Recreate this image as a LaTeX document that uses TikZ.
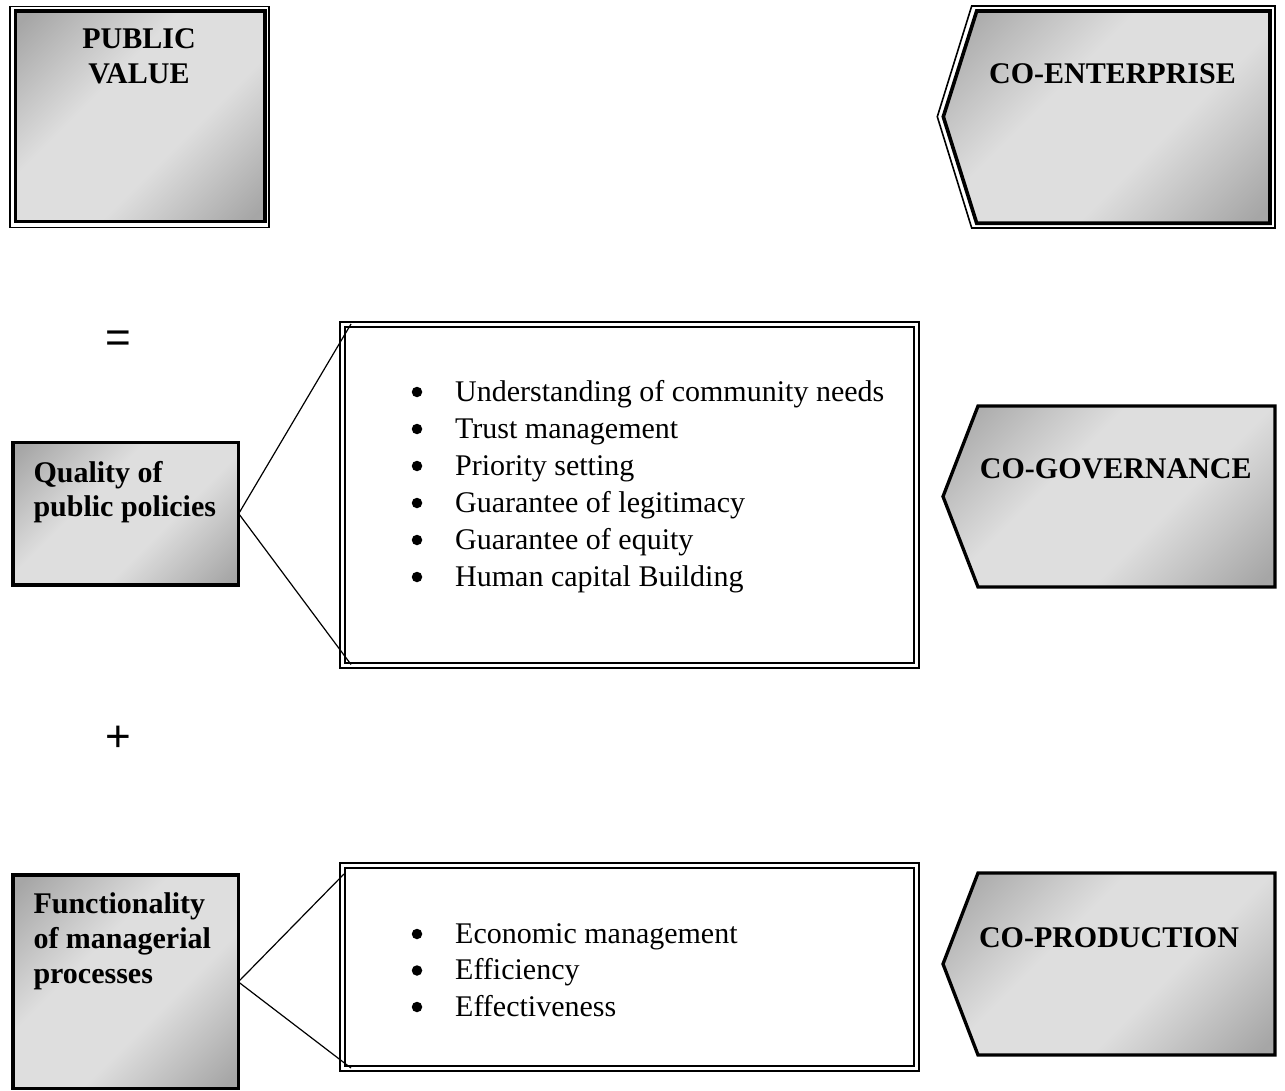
\documentclass[tikz,border=0pt]{standalone}
\usepackage{fontspec}
\setmainfont{Liberation Serif}
\newfontfamily\arialfont{Liberation Sans}
\usetikzlibrary{calc}
\definecolor{shdark}{RGB}{166,166,166}
\definecolor{shlight}{RGB}{222,222,222}
\pgfdeclarehorizontalshading{diagband}{100bp}{color(0bp)=(shdark); color(17bp)=(shdark); color(40bp)=(shlight); color(60bp)=(shlight); color(83bp)=(shdark); color(100bp)=(shdark)}
\begin{document}
\begin{tikzpicture}[x=1pt,y=-1pt,
  grad/.style={shade,shading=diagband,shading angle=-45},
  thinframe/.style={draw=black,line width=1.6pt,inner sep=0pt,outer sep=0pt},
  thickframe/.style={draw=black,line width=3.6pt,inner sep=0pt,outer sep=0pt,grad},
  solidbox/.style={draw=black,line width=3.3pt,inner sep=0pt,outer sep=0pt,grad},
  listouter/.style={draw=black,line width=2pt,inner sep=0pt,outer sep=0pt},
  listinner/.style={draw=black,line width=1.8pt,inner sep=0pt,outer sep=0pt},
  boldtxt/.style={font=\fontsize{30}{34.5}\selectfont\bfseries,inner sep=0pt},
  itemtxt/.style={font=\fontsize{30}{34.5}\selectfont,inner sep=0pt,anchor=base west},
  bulletdot/.style={circle,fill=black,inner sep=0pt,minimum size=10.5pt},
  symtxt/.style={font=\fontsize{44}{50}\arialfont,inner sep=0pt,anchor=base},
  conn/.style={draw=black,line width=1.2pt},
  pentthin/.style={draw=black,line width=1.6pt},
  pentfill/.style={shading=diagband,shading angle=-45}
]
\useasboundingbox (0,0) rectangle (1285,1091);

% PUBLIC VALUE box
\node[thinframe,minimum width=258.7pt,minimum height=221pt] (pvo) at (139.35,117.2) {};
\node[thickframe,minimum width=249.7pt,minimum height=210.7pt] (pvi) at (140.15,116.35) {};
\node[boldtxt,anchor=base] (pv1) at (139,48.3) {PUBLIC};
\node[boldtxt,anchor=base] (pv2) at (139,83.3) {VALUE};

% CO-ENTERPRISE
\draw[pentthin] (971.7,6) -- (1275,6) -- (1275,228) -- (971.7,228) -- (937.3,116.7) -- cycle;
\shade[pentfill] (976.7,11) -- (1270,11) -- (1270,223.3) -- (976.7,223.3) -- (943.3,116.7) -- cycle;
\draw[line width=3.6pt] (976.7,11) -- (1270,11) -- (1270,223.3) -- (976.7,223.3) -- (943.3,116.7) -- cycle;
\node[boldtxt,anchor=base] (coe) at (1112.5,83.3) {CO-ENTERPRISE};

% = sign
\node[symtxt] (eq) at (118,352.4) {=};

% Quality box
\node[solidbox,minimum width=225.7pt,minimum height=142.7pt] (qual) at (125.85,513.65) {};
\node[boldtxt,anchor=base west] (q1) at (33.3,482) {Quality of};
\node[boldtxt,anchor=base west] (q2) at (33.3,516.5) {public policies};

% middle list box
\node[listouter,minimum width=579pt,minimum height=345.5pt] (mlo) at (629.5,494.75) {};
\node[listinner,minimum width=569pt,minimum height=336.3pt] (mli) at (629.5,494.85) {};
\coordinate (mt) at (351,324);
\coordinate (mb) at (351,664.5);
\draw[conn] (qual.east) -- (mt);
\draw[conn] (qual.east) -- (mb);
\node[bulletdot] (mb1) at (417,392) {};
\node[bulletdot] (mb2) at (417,429) {};
\node[bulletdot] (mb3) at (417,466) {};
\node[bulletdot] (mb4) at (417,503) {};
\node[bulletdot] (mb5) at (417,540) {};
\node[bulletdot] (mb6) at (417,577) {};
\node[itemtxt] (mi1) at (455,401) {Understanding of community needs};
\node[itemtxt] (mi2) at (455,438) {Trust management};
\node[itemtxt] (mi3) at (455,475) {Priority setting};
\node[itemtxt] (mi4) at (455,512) {Guarantee of legitimacy};
\node[itemtxt] (mi5) at (455,549) {Guarantee of equity};
\node[itemtxt] (mi6) at (455,586) {Human capital Building};

% CO-GOVERNANCE
\shade[pentfill] (978,406) -- (1275,406) -- (1275,587) -- (978,587) -- (943,496.5) -- cycle;
\draw[line width=3.3pt] (978,406) -- (1275,406) -- (1275,587) -- (978,587) -- (943,496.5) -- cycle;
\node[boldtxt,anchor=base] (cog) at (1115.8,478.3) {CO-GOVERNANCE};

% + sign
\node[symtxt] (plus) at (118,751) {+};

% Functionality box
\node[solidbox,minimum width=225.3pt,minimum height=213.7pt] (func) at (125.65,981.85) {};
\node[boldtxt,anchor=base west] (f1) at (33.3,913.3) {Functionality};
\node[boldtxt,anchor=base west] (f2) at (33.3,948.3) {of managerial};
\node[boldtxt,anchor=base west] (f3) at (33.3,983.3) {processes};

% bottom list box
\node[listouter,minimum width=579pt,minimum height=208pt] (blo) at (629.5,967) {};
\node[listinner,minimum width=569pt,minimum height=198pt] (bli) at (629.5,967) {};
\coordinate (bt) at (344,874);
\coordinate (bb) at (351,1068);
\draw[conn] (func.east) -- (bt);
\draw[conn] (func.east) -- (bb);
\node[bulletdot] (bb1) at (417,934) {};
\node[bulletdot] (bb2) at (417,970.5) {};
\node[bulletdot] (bb3) at (417,1007) {};
\node[itemtxt] (bi1) at (455,943) {Economic management};
\node[itemtxt] (bi2) at (455,979.5) {Efficiency};
\node[itemtxt] (bi3) at (455,1016) {Effectiveness};

% CO-PRODUCTION
\shade[pentfill] (978,873) -- (1275,873) -- (1275,1055) -- (978,1055) -- (943,964) -- cycle;
\draw[line width=3.3pt] (978,873) -- (1275,873) -- (1275,1055) -- (978,1055) -- (943,964) -- cycle;
\node[boldtxt,anchor=base] (cop) at (1109,947.3) {CO-PRODUCTION};
\end{tikzpicture}
\end{document}
